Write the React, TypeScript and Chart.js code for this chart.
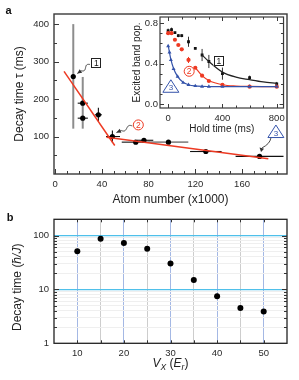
import React, { useEffect, useRef } from "react";
import { Chart, registerables } from "chart.js";
Chart.register(...registerables);

const FONT = "'Liberation Sans', Arial, Helvetica, sans-serif";
const RED = "#ee3a23";
const BLUE = "#3453aa";
const FRAME = "#3a3a3a";
const TXT = "#2a2a2a";

// ---------- Panel a: decay time vs atom number ----------
const atomNumber = [15.5, 23.6, 23.6, 37, 49, 69, 76, 97, 129, 175];
const decayTimeMs = [260, 189, 149, 158, 100, 85, 90, 85, 60, 47];
const decayLowMs = [121, 121, 149, 141, 84, 85, 90, 85, 60, 47];
const decayHighMs = [400, 259, 149, 177, 116, 85, 90, 85, 60, 47];
const atomLow = [15.5, 19.3, 19.3, 34, 43.5, 57, 70, 80, 115.5, 154.5];
const atomHigh = [15.5, 28, 28, 40, 55.5, 81, 84, 114, 142.5, 195.5];
const steepFitX = [7.6, 51];
const steepFitY = [274, 76];
const flatFitX = [44, 182.5];
const flatFitY = [98, 41];
const atomTicks = [0, 40, 80, 120, 160];
const atomMinorTicks = [0, 10, 20, 30, 40, 50, 60, 70, 80, 90, 100, 110, 120, 130, 140, 150, 160, 170, 180, 190];
const decayTicks = [100, 200, 300, 400];
const decayMinorTicks = [50, 100, 150, 200, 250, 300, 350, 400];

// ---------- Inset: excited band population vs hold time ----------
const holdTime = [0, 25, 50, 75, 100, 150, 200, 250, 300, 400, 600, 800];
const popBlack = [0.725, 0.735, 0.705, 0.675, 0.675, 0.615, 0.55, 0.484, 0.42, 0.30, 0.26, 0.198];
const popBlackErr = [0.02, 0.02, 0.01, 0.015, 0.015, 0.05, 0.01, 0.06, 0.065, 0.06, 0.02, 0.02];
const popRed = [0.70, 0.70, 0.635, 0.583, 0.54, 0.435, 0.358, 0.28, 0.227, 0.188, 0.171, 0.171];
const popRedErr = [0.015, 0.01, 0.01, 0.01, 0.01, 0.03, 0.01, 0.01, 0.01, 0.01, 0.01, 0.01];
const holdTimeBlue = [0, 10, 20, 40, 70, 110, 150, 200, 250, 300, 400, 600, 800];
const popBlue = [0.573, 0.51, 0.435, 0.346, 0.27, 0.21, 0.19, 0.178, 0.172, 0.171, 0.171, 0.171, 0.171];
const fitBlackT = [246, 300, 400, 500, 600, 700, 800];
const fitBlackP = [0.49, 0.42, 0.315, 0.265, 0.24, 0.218, 0.205];
const fitRedT = [200, 250, 300, 400, 500, 600, 800];
const fitRedP = [0.36, 0.28, 0.232, 0.19, 0.177, 0.173, 0.171];
const fitBlueT = [0, 20, 40, 70, 110, 150, 200, 300, 400, 800];
const fitBlueP = [0.58, 0.44, 0.35, 0.27, 0.215, 0.19, 0.178, 0.172, 0.171, 0.171];
const holdTicks = [0, 400, 800];
const holdMinorTicks = [0, 100, 200, 300, 400, 500, 600, 700, 800];
const popTicks = [0, 0.4, 0.8];
const popMinorTicks = [0, 0.1, 0.2, 0.3, 0.4, 0.5, 0.6, 0.7, 0.8];

// ---------- Panel b: decay time vs lattice depth ----------
const latticeDepth = [10, 15, 20, 25, 30, 35, 40, 45, 50];
const decayTimeHJ = [51, 87, 73, 57, 30.4, 15, 7.5, 4.5, 3.9];
const decayLowHJ = [49, 84, 67, 54, 28.5, 14.3, 6.8, 4.3, 3.6];
const decayHighHJ = [53, 90, 80, 60, 32.5, 15.8, 8.3, 4.7, 4.2];
const depthTicks = [5, 10, 15, 20, 25, 30, 35, 40, 45, 50, 55];
const depthLabels = [10, 20, 30, 40, 50];
const logTicks = [1, 2, 3, 4, 5, 6, 7, 8, 9, 10, 20, 30, 40, 50, 60, 70, 80, 90, 100, 200];
const logLabels = [1, 10, 100];

const pts = (xs: number[], ys: number[]) => xs.map((x, i) => ({ x, y: ys[i] }));
const crisp = (v: number) => Math.round(v) + 0.5;

function drawFrame(ctx: CanvasRenderingContext2D, a: any, color: string, lw: number) {
  ctx.save();
  ctx.strokeStyle = color;
  ctx.lineWidth = lw;
  ctx.strokeRect(a.left, a.top, a.right - a.left, a.bottom - a.top);
  ctx.restore();
}

function inwardTicks(chart: any, axis: string, values: number[], len: number, sides: string[], color: string) {
  const ctx = chart.ctx as CanvasRenderingContext2D;
  const a = chart.chartArea;
  const s = chart.scales[axis];
  ctx.save();
  ctx.strokeStyle = color;
  ctx.lineWidth = 1;
  ctx.beginPath();
  for (const v of values) {
    const p = s.getPixelForValue(v);
    if (axis === "x") {
      if (p < a.left + 1 || p > a.right - 1) continue;
      const q = crisp(p);
      if (sides.includes("bottom")) { ctx.moveTo(q, a.bottom); ctx.lineTo(q, a.bottom - len); }
      if (sides.includes("top")) { ctx.moveTo(q, a.top); ctx.lineTo(q, a.top + len); }
    } else {
      if (p < a.top + 1 || p > a.bottom - 1) continue;
      const q = crisp(p);
      if (sides.includes("left")) { ctx.moveTo(a.left, q); ctx.lineTo(a.left + len, q); }
      if (sides.includes("right")) { ctx.moveTo(a.right, q); ctx.lineTo(a.right - len, q); }
    }
  }
  ctx.stroke();
  ctx.restore();
}

function line(ctx: CanvasRenderingContext2D, x0: number, y0: number, x1: number, y1: number) {
  ctx.beginPath();
  ctx.moveTo(x0, y0);
  ctx.lineTo(x1, y1);
  ctx.stroke();
}

function boxLabel(ctx: CanvasRenderingContext2D, x: number, y: number, t: string) {
  ctx.save();
  ctx.fillStyle = "#fff";
  ctx.fillRect(x - 5, y - 5, 10, 10);
  ctx.strokeStyle = "#222";
  ctx.lineWidth = 1;
  ctx.strokeRect(Math.round(x - 5) + 0.5, Math.round(y - 5) + 0.5, 9, 9);
  ctx.fillStyle = "#111";
  ctx.font = `8.5px ${FONT}`;
  ctx.textAlign = "center";
  ctx.textBaseline = "middle";
  ctx.fillText(t, x + 0.3, y + 0.5);
  ctx.restore();
}

function circleLabel(ctx: CanvasRenderingContext2D, x: number, y: number, t: string) {
  ctx.save();
  ctx.fillStyle = "#fff";
  ctx.beginPath();
  ctx.arc(x, y, 5, 0, Math.PI * 2);
  ctx.fill();
  ctx.strokeStyle = RED;
  ctx.lineWidth = 1;
  ctx.stroke();
  ctx.fillStyle = RED;
  ctx.font = `8.5px ${FONT}`;
  ctx.textAlign = "center";
  ctx.textBaseline = "middle";
  ctx.fillText(t, x, y + 0.5);
  ctx.restore();
}

function triangleLabel(ctx: CanvasRenderingContext2D, x: number, y: number, t: string) {
  ctx.save();
  ctx.beginPath();
  ctx.moveTo(x, y - 7);
  ctx.lineTo(x - 8, y + 5.5);
  ctx.lineTo(x + 8, y + 5.5);
  ctx.closePath();
  ctx.fillStyle = "#fff";
  ctx.fill();
  ctx.strokeStyle = BLUE;
  ctx.lineWidth = 1;
  ctx.stroke();
  ctx.fillStyle = BLUE;
  ctx.font = `8px ${FONT}`;
  ctx.textAlign = "center";
  ctx.textBaseline = "middle";
  ctx.fillText(t, x, y + 1.5);
  ctx.restore();
}

function wavyArrow(ctx: CanvasRenderingContext2D, x0: number, y0: number, x1: number, y1: number, color: string) {
  const dx = x1 - x0, dy = y1 - y0;
  const L = Math.hypot(dx, dy);
  const ux = dx / L, uy = dy / L, nx = -uy, ny = ux;
  ctx.save();
  ctx.strokeStyle = color;
  ctx.fillStyle = color;
  ctx.lineWidth = 0.9;
  ctx.beginPath();
  const n = 40;
  for (let i = 0; i <= n; i++) {
    const t = i / n;
    const w = t < 0.7 ? Math.sin((t / 0.7) * Math.PI * 2) * 1.6 : 0;
    const px = x0 + dx * t + nx * w;
    const py = y0 + dy * t + ny * w;
    if (i === 0) ctx.moveTo(px, py); else ctx.lineTo(px, py);
  }
  ctx.stroke();
  ctx.beginPath();
  ctx.moveTo(x1, y1);
  ctx.lineTo(x1 - ux * 4.5 + nx * 2.2, y1 - uy * 4.5 + ny * 2.2);
  ctx.lineTo(x1 - ux * 4.5 - nx * 2.2, y1 - uy * 4.5 - ny * 2.2);
  ctx.closePath();
  ctx.fill();
  ctx.restore();
}

function fixedTicks(values: number[]) {
  return (s: any) => {
    s.ticks = values.map((v) => ({ value: v }));
  };
}

// ---------- chart configs ----------
const grayVertical = new Set([0, 1]);
const grayHorizontal = new Set([7]);

const mainPlugin = {
  id: "mainDecor",
  beforeDatasetsDraw(chart: any) {
    const ctx = chart.ctx as CanvasRenderingContext2D;
    const xs = chart.scales.x, ys = chart.scales.y;
    ctx.save();
    ctx.lineCap = "butt";
    for (let i = 0; i < atomNumber.length; i++) {
      const cx = xs.getPixelForValue(atomNumber[i]);
      const cy = ys.getPixelForValue(decayTimeMs[i]);
      const yl = ys.getPixelForValue(decayLowMs[i]);
      const yh = ys.getPixelForValue(decayHighMs[i]);
      if (Math.abs(yl - yh) > 0.5) {
        ctx.strokeStyle = grayVertical.has(i) ? "#8d8d8d" : "#111";
        ctx.lineWidth = grayVertical.has(i) ? 2 : 1.1;
        line(ctx, cx, yl, cx, yh);
      }
      const xl = xs.getPixelForValue(atomLow[i]);
      const xh = xs.getPixelForValue(atomHigh[i]);
      if (Math.abs(xh - xl) > 0.5) {
        ctx.strokeStyle = grayHorizontal.has(i) ? "#8d8d8d" : "#111";
        ctx.lineWidth = grayHorizontal.has(i) ? 1.6 : 1.1;
        line(ctx, xl, cy, xh, cy);
      }
    }
    ctx.restore();
  },
  afterDraw(chart: any) {
    const ctx = chart.ctx as CanvasRenderingContext2D;
    const a = chart.chartArea;
    const xs = chart.scales.x, ys = chart.scales.y;
    drawFrame(ctx, a, FRAME, 1.4);
    inwardTicks(chart, "x", atomMinorTicks, 3, ["bottom"], FRAME);
    inwardTicks(chart, "y", decayMinorTicks, 3, ["left"], FRAME);
    inwardTicks(chart, "x", atomTicks, 5, ["bottom"], FRAME);
    inwardTicks(chart, "y", decayTicks, 5, ["left"], FRAME);
    // panel letter
    ctx.save();
    ctx.fillStyle = "#111";
    ctx.font = `bold 11px ${FONT}`;
    ctx.textAlign = "center";
    ctx.textBaseline = "middle";
    ctx.fillText("a", 8.5, 11);
    ctx.restore();
    // annotations
    const b1x = xs.getPixelForValue(35), b1y = ys.getPixelForValue(295);
    wavyArrow(ctx, b1x - 6, b1y + 1, xs.getPixelForValue(atomNumber[0]) + 4, ys.getPixelForValue(decayTimeMs[0]) - 3, "#333");
    boxLabel(ctx, b1x, b1y, "1");
    const c2x = xs.getPixelForValue(71.2), c2y = ys.getPixelForValue(131);
    wavyArrow(ctx, c2x - 6, c2y + 1, xs.getPixelForValue(atomNumber[4]) + 4, ys.getPixelForValue(decayTimeMs[4]) - 4, "#333");
    circleLabel(ctx, c2x, c2y, "2");
    const t3x = xs.getPixelForValue(189), t3y = ys.getPixelForValue(112);
    // curved arrow from triangle 3 down to point
    const tipX = xs.getPixelForValue(atomNumber[9]) + 1.5, tipY = ys.getPixelForValue(decayTimeMs[9]) - 4.5;
    ctx.save();
    ctx.strokeStyle = "#333";
    ctx.fillStyle = "#333";
    ctx.lineWidth = 0.9;
    ctx.beginPath();
    ctx.moveTo(t3x - 5, t3y + 6);
    ctx.quadraticCurveTo(t3x - 6, tipY - 8, tipX + 1, tipY - 4);
    ctx.stroke();
    ctx.beginPath();
    ctx.moveTo(tipX, tipY);
    ctx.lineTo(tipX - 1.5, tipY - 4.5);
    ctx.lineTo(tipX + 3, tipY - 3.2);
    ctx.closePath();
    ctx.fill();
    ctx.restore();
    triangleLabel(ctx, t3x, t3y, "3");
  },
};

function mainConfig(): any {
  return {
    type: "scatter",
    data: {
      datasets: [
        { data: pts(steepFitX, steepFitY), showLine: true, borderColor: RED, borderWidth: 1.5, pointRadius: 0, fill: false },
        { data: pts(flatFitX, flatFitY), showLine: true, borderColor: RED, borderWidth: 1.5, pointRadius: 0, fill: false },
        { data: pts(atomNumber, decayTimeMs), pointRadius: 2.6, backgroundColor: "#000", borderWidth: 0 },
      ],
    },
    options: {
      responsive: false,
      animation: false,
      devicePixelRatio: 1,
      layout: { padding: { top: 14, right: 12, left: 0, bottom: 0 } },
      plugins: { legend: { display: false }, tooltip: { enabled: false } },
      scales: {
        x: {
          type: "linear", min: -1, max: 198.5,
          afterBuildTicks: fixedTicks(atomTicks),
          afterFit: (s: any) => { s.height = 36; },
          grid: { display: false, drawTicks: false },
          border: { display: false },
          ticks: { autoSkip: false, maxRotation: 0, padding: 5, color: TXT, font: { family: FONT, size: 9.5 }, callback: (v: any) => String(v) },
          title: { display: true, text: "Atom number (x1000)", color: "#222", font: { family: FONT, size: 12 }, padding: { top: 0, bottom: 3 } },
        },
        y: {
          type: "linear", min: 0, max: 427,
          afterBuildTicks: fixedTicks(decayTicks),
          afterFit: (s: any) => { s.width = 54; },
          grid: { display: false, drawTicks: false },
          border: { display: false },
          ticks: { autoSkip: false, padding: 5, color: TXT, font: { family: FONT, size: 9.5 }, callback: (v: any) => String(v) },
          title: { display: true, text: "Decay time τ (ms)", color: "#222", font: { family: FONT, size: 12 }, padding: { top: 12.8, bottom: 0 } },
        },
      },
    },
    plugins: [mainPlugin],
  };
}

const insetPlugin = {
  id: "insetDecor",
  beforeDatasetsDraw(chart: any) {
    const ctx = chart.ctx as CanvasRenderingContext2D;
    const xs = chart.scales.x, ys = chart.scales.y;
    ctx.save();
    ctx.lineWidth = 1;
    const bars = (vals: number[], errs: number[], color: string) => {
      ctx.strokeStyle = color;
      for (let i = 0; i < holdTime.length; i++) {
        const cx = xs.getPixelForValue(holdTime[i]);
        line(ctx, cx, ys.getPixelForValue(vals[i] - errs[i]), cx, ys.getPixelForValue(vals[i] + errs[i]));
      }
    };
    bars(popBlack, popBlackErr, "#333");
    bars(popRed, popRedErr, RED);
    ctx.restore();
  },
  afterDraw(chart: any) {
    const ctx = chart.ctx as CanvasRenderingContext2D;
    const a = chart.chartArea;
    const xs = chart.scales.x, ys = chart.scales.y;
    drawFrame(ctx, a, FRAME, 1.2);
    inwardTicks(chart, "x", holdMinorTicks, 2.5, ["bottom", "top"], FRAME);
    inwardTicks(chart, "y", popMinorTicks, 2.5, ["left", "right"], FRAME);
    inwardTicks(chart, "x", holdTicks, 4, ["bottom", "top"], FRAME);
    inwardTicks(chart, "y", popTicks, 4, ["left", "right"], FRAME);
    boxLabel(ctx, xs.getPixelForValue(371), ys.getPixelForValue(0.427), "1");
    circleLabel(ctx, xs.getPixelForValue(155), ys.getPixelForValue(0.323), "2");
    triangleLabel(ctx, xs.getPixelForValue(20), ys.getPixelForValue(0.17), "3");
  },
};

function insetConfig(): any {
  const curve = (t: number[], p: number[], color: string) => ({
    data: pts(t, p), showLine: true, borderColor: color, borderWidth: 1.2, pointRadius: 0, fill: false, cubicInterpolationMode: "monotone",
  });
  return {
    type: "scatter",
    data: {
      datasets: [
        curve(fitBlueT, fitBlueP, BLUE),
        curve(fitRedT, fitRedP, RED),
        curve(fitBlackT, fitBlackP, "#222"),
        { data: pts(holdTimeBlue, popBlue), pointStyle: "triangle", pointRadius: 2.3, backgroundColor: BLUE, borderColor: BLUE, borderWidth: 0 },
        { data: pts(holdTime, popRed), pointStyle: "circle", pointRadius: 2.1, backgroundColor: RED, borderWidth: 0 },
        { data: pts(holdTime, popBlack), pointStyle: "rect", pointRadius: 2, backgroundColor: "#111", borderWidth: 0 },
      ],
    },
    options: {
      responsive: false,
      animation: false,
      devicePixelRatio: 1,
      layout: { padding: { top: 17, right: 6, left: 0, bottom: 0 } },
      plugins: { legend: { display: false }, tooltip: { enabled: false } },
      scales: {
        x: {
          type: "linear", min: -60, max: 850,
          afterBuildTicks: fixedTicks(holdTicks),
          afterFit: (s: any) => { s.height = 32; },
          grid: { display: false, drawTicks: false },
          border: { display: false },
          ticks: { autoSkip: false, maxRotation: 0, padding: 5, color: TXT, font: { family: FONT, size: 9.5 }, callback: (v: any) => String(v) },
          title: { display: true, text: "Hold time (ms)", color: "#222", font: { family: FONT, size: 10 }, padding: { top: 0, bottom: 5 } },
        },
        y: {
          type: "linear", min: -0.04, max: 0.86,
          afterBuildTicks: fixedTicks(popTicks),
          afterFit: (s: any) => { s.width = 40; },
          grid: { display: false, drawTicks: false },
          border: { display: false },
          ticks: { autoSkip: false, padding: 2, color: TXT, font: { family: FONT, size: 9.5 }, callback: (v: any) => Number(v).toFixed(1) },
          title: { display: true, text: "Excited band pop.", color: "#222", font: { family: FONT, size: 10 }, padding: { top: 11, bottom: 0 } },
        },
      },
    },
    plugins: [insetPlugin],
  };
}

const bPlugin = {
  id: "bDecor",
  beforeDatasetsDraw(chart: any) {
    const ctx = chart.ctx as CanvasRenderingContext2D;
    const xs = chart.scales.x, ys = chart.scales.y;
    ctx.save();
    ctx.strokeStyle = "#111";
    ctx.lineWidth = 1.2;
    for (let i = 0; i < latticeDepth.length; i++) {
      const cx = xs.getPixelForValue(latticeDepth[i]);
      line(ctx, cx, ys.getPixelForValue(decayLowHJ[i]), cx, ys.getPixelForValue(decayHighHJ[i]));
    }
    ctx.restore();
  },
  afterDraw(chart: any) {
    const ctx = chart.ctx as CanvasRenderingContext2D;
    const a = chart.chartArea;
    drawFrame(ctx, a, "#222", 1.3);
    inwardTicks(chart, "x", depthTicks, 3, ["bottom", "top"], "#333");
    inwardTicks(chart, "y", logTicks, 3, ["left", "right"], "#333");
    inwardTicks(chart, "y", logLabels, 5, ["left", "right"], "#333");
    ctx.save();
    ctx.fillStyle = "#111";
    ctx.font = `bold 11px ${FONT}`;
    ctx.textAlign = "center";
    ctx.textBaseline = "middle";
    ctx.fillText("b", 10, 13);
    ctx.restore();
    // y title with italic units
    ctx.save();
    ctx.fillStyle = "#222";
    ctx.textBaseline = "middle";
    ctx.textAlign = "left";
    const segsY: [string, string][] = [["Decay time (", `12px ${FONT}`], ["ħ/J", `italic 12px ${FONT}`], [")", `12px ${FONT}`]];
    let total = 0;
    for (const [t, f] of segsY) { ctx.font = f; total += ctx.measureText(t).width; }
    ctx.translate(17.5, (a.top + a.bottom) / 2 + 6);
    ctx.rotate(-Math.PI / 2);
    let x = -total / 2;
    for (const [t, f] of segsY) { ctx.font = f; ctx.fillText(t, x, 0); x += ctx.measureText(t).width; }
    ctx.restore();
    // x title V_X (E_r)
    ctx.save();
    ctx.fillStyle = "#222";
    ctx.textBaseline = "alphabetic";
    ctx.textAlign = "left";
    const segsX: [string, string, number][] = [
      ["V", `italic 12px ${FONT}`, 0],
      ["X", `italic 8.5px ${FONT}`, 3],
      [" (", `12px ${FONT}`, 0],
      ["E", `italic 12px ${FONT}`, 0],
      ["r", `italic 8.5px ${FONT}`, 3],
      [")", `12px ${FONT}`, 0],
    ];
    let tw = 0;
    for (const [t, f] of segsX) { ctx.font = f; tw += ctx.measureText(t).width; }
    let xx = (a.left + a.right) / 2 - tw / 2;
    const base = 162;
    for (const [t, f, dy] of segsX) { ctx.font = f; ctx.fillText(t, xx, base + dy); xx += ctx.measureText(t).width; }
    ctx.restore();
  },
};

function bConfig(): any {
  return {
    type: "scatter",
    data: {
      datasets: [
        { data: pts(latticeDepth, decayTimeHJ), pointRadius: 3, backgroundColor: "#000", borderWidth: 0 },
      ],
    },
    options: {
      responsive: false,
      animation: false,
      devicePixelRatio: 1,
      layout: { padding: { top: 14.3, right: 12, left: 0, bottom: 0 } },
      plugins: { legend: { display: false }, tooltip: { enabled: false } },
      scales: {
        x: {
          type: "linear", min: 5, max: 55,
          afterBuildTicks: fixedTicks(depthTicks),
          afterFit: (s: any) => { s.height = 36.7; },
          grid: {
            drawTicks: false,
            lineWidth: 1,
            color: (c: any) => {
              const v = c.tick && c.tick.value;
              if (v === 5 || v === 55) return "rgba(0,0,0,0)";
              return v % 10 === 0 ? "rgba(90,125,205,0.55)" : "#cdcdcd";
            },
          },
          border: { display: false },
          ticks: { autoSkip: false, maxRotation: 0, padding: 4, color: TXT, font: { family: FONT, size: 9.5 }, callback: (v: any) => (depthLabels.includes(Number(v)) ? String(v) : "") },
        },
        y: {
          type: "logarithmic", min: 1, max: 200,
          afterBuildTicks: fixedTicks(logTicks),
          afterFit: (s: any) => { s.width = 54; },
          grid: {
            drawTicks: false,
            lineWidth: (c: any) => (c.tick && (c.tick.value === 10 || c.tick.value === 100) ? 1.3 : 1),
            color: (c: any) => {
              const v = c.tick && c.tick.value;
              if (v === 1 || v === 200) return "rgba(0,0,0,0)";
              return v === 10 || v === 100 ? "#4fc0ea" : "#efefef";
            },
          },
          border: { display: false },
          ticks: { autoSkip: false, padding: 5, color: TXT, font: { family: FONT, size: 9.5 }, callback: (v: any) => (logLabels.includes(Number(v)) ? String(v) : "") },
        },
      },
    },
    plugins: [bPlugin],
  };
}

function ChartCanvas({ left, top, width, height, make }: { left: number; top: number; width: number; height: number; make: () => any }) {
  const ref = useRef<HTMLCanvasElement | null>(null);
  useEffect(() => {
    if (!ref.current) return;
    const chart = new Chart(ref.current, make());
    return () => chart.destroy();
  }, []);
  return (
    <canvas
      ref={ref}
      width={width}
      height={height}
      style={{ position: "absolute", left, top, width, height, display: "block" }}
    />
  );
}

export default function App() {
  return (
    <div style={{ position: "absolute", left: 0, top: 0, width: 299, height: 380, background: "#fff", overflow: "hidden" }}>
      <ChartCanvas left={0} top={0} width={299} height={210} make={mainConfig} />
      <ChartCanvas left={120} top={0} width={170} height={140} make={insetConfig} />
      <ChartCanvas left={0} top={205} width={299} height={175} make={bConfig} />
    </div>
  );
}
